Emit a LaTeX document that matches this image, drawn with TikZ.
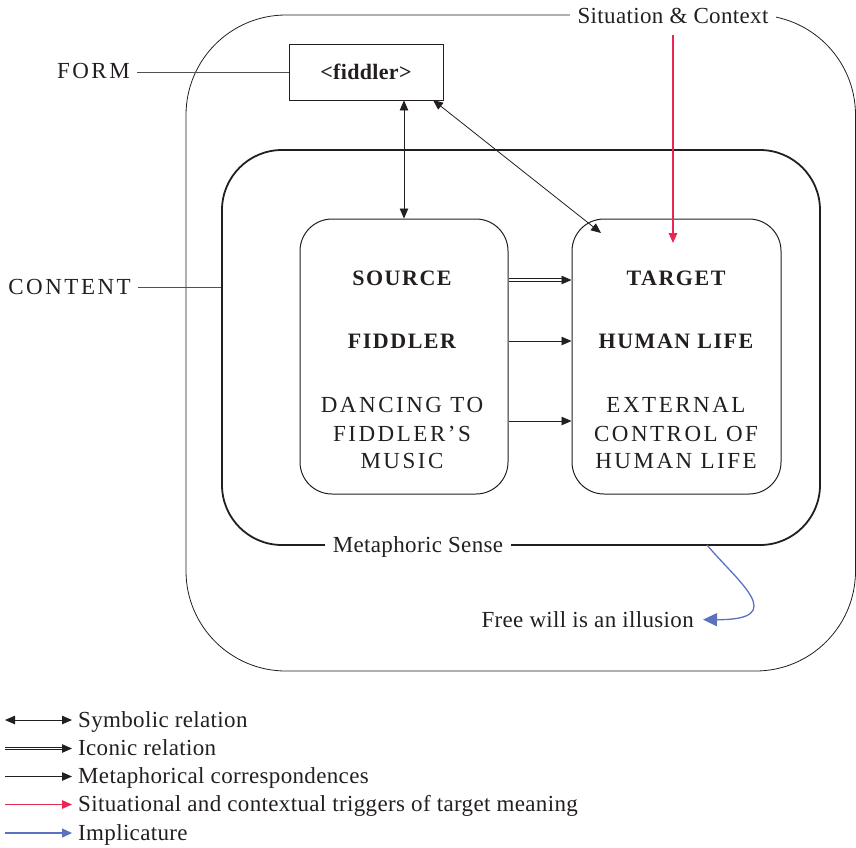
\documentclass[tikz,border=0pt]{standalone}
\usepackage{fontspec}
\setmainfont[LetterSpace=1.5]{Liberation Serif}
\newfontfamily\capsfont[LetterSpace=11]{Liberation Serif}
\newfontfamily\boldcaps[LetterSpace=7]{Liberation Serif}
\usetikzlibrary{arrows.meta}
\definecolor{ink}{RGB}{35,31,32}
\definecolor{trigred}{RGB}{232,40,82}
\definecolor{implblue}{RGB}{92,114,190}
\definecolor{leadgray}{RGB}{80,80,80}

\begin{document}
\begin{tikzpicture}[x=1pt,y=-1pt,
  >={Triangle[length=10pt,width=8.5pt]},
  every node/.style={font=\fontsize{23}{28}\selectfont, inner sep=0pt, text=ink},
  frame/.style={draw=ink, line width=0.8pt},
  roundbox/.style={draw=ink, line width=1pt, rounded corners=32pt, minimum width=208pt, minimum height=275pt},
  caption/.style={fill=white, inner xsep=8pt, inner ysep=3pt, anchor=base},
  capline/.style={font=\fontsize{23}{28}\selectfont\capsfont, anchor=base},
  boldline/.style={font=\fontsize{22}{28}\selectfont\boldcaps\bfseries, anchor=base},
  leader/.style={draw=leadgray, line width=0.8pt},
  symb/.style={draw=ink, line width=0.8pt, <->},
  icostroke/.style={draw=ink, line width=0.8pt, shorten >=8pt},
  corr/.style={draw=ink, line width=0.8pt, ->},
  trig/.style={draw=trigred, line width=1.4pt, -{Triangle[length=10pt,width=8.5pt]}},
  impl/.style={draw=implblue, line width=1.3pt, -{Triangle[length=14pt,width=13pt]}},
  legtext/.style={anchor=base west}
]
\useasboundingbox (0,0) rectangle (856,847);

% situation frame and the content frame
\node[frame, rounded corners=100pt, minimum width=669.5pt, minimum height=656pt] (sit) at (520.75,343) {};
\node[draw=ink, line width=1.8pt, rounded corners=60pt, minimum width=598pt, minimum height=395pt] (cont) at (521,347.5) {};

% frame captions
\node[caption] (sitlbl) at (673,23.5) {Situation \& Context};
\node[caption] (metlbl) at (418,552.5) {Metaphoric Sense};

% form box
\node[frame, minimum width=154pt, minimum height=56pt, font=\fontsize{22}{28}\selectfont\bfseries] (form) at (366,72) {<fiddler>};

% side labels
\node[capline, anchor=base east] (formlbl) at (130,78.5) {FORM};
\node[capline, anchor=base east] (contlbl) at (131,294.5) {CONTENT};
\draw[leader] (formlbl.east |- form.west) ++(7,0) -- (form.west);
\draw[leader] (contlbl.east |- 0,287) ++(7,0) -- (cont.west |- 0,287);

% source and target domains
\node[roundbox] (src) at (404,356.5) {};
\node[roundbox, minimum width=209pt] (tgt) at (676.5,356.5) {};

\node[boldline] (s1) at (402,285.5) {SOURCE};
\node[boldline] (s2) at (402,348.5) {FIDDLER};
\node[capline] (s3) at (402,412.5) {DANCING TO};
\node[capline] (s4) at (402,441.5) {FIDDLER’S};
\node[capline] (s5) at (402,468.5) {MUSIC};

\node[boldline] (t1) at (676,285.5) {TARGET};
\node[boldline] (t2) at (676,348.5) {HUMAN LIFE};
\node[capline] (t3) at (676,412.5) {EXTERNAL};
\node[capline] (t4) at (676,441.5) {CONTROL OF};
\node[capline] (t5) at (676,468.5) {HUMAN LIFE};

% relations between form and content
\draw[symb] (src.north |- form.south) -- (src.north);
\coordinate (diagstart) at (433,100);
\coordinate (diagend) at (601,233);
\draw[symb] (diagstart) -- (diagend);

% iconic relation: two parallel strokes and one head
\coordinate (ia) at (src.east |- 0,280);
\coordinate (ib) at (tgt.west |- 0,280);
\draw[icostroke] ([yshift=1.3pt]ia) -- ([yshift=1.3pt]ib);
\draw[icostroke] ([yshift=-1.3pt]ia) -- ([yshift=-1.3pt]ib);
\draw[corr] ([xshift=-4pt]ib) -- (ib);

\draw[corr] (src.east |- 0,341) -- (tgt.west |- 0,341);
\draw[corr] (src.east |- 0,421) -- (tgt.west |- 0,421);

% contextual trigger
\coordinate (trigend) at (673,243);
\draw[trig] (sitlbl.south -| trigend) ++(0,8) -- (trigend);

% implicature
\node[anchor=base east] (free) at (694,627.5) {Free will is an illusion};
\coordinate (implstart) at (707,545);
\draw[impl] (implstart) .. controls (738,582) and (790,620) .. ([xshift=9pt]free.east);

% legend
\foreach \i/\yy in {1/720,2/748.5,3/776.5,4/804.5,5/833}{
  \coordinate (la\i) at (5,\yy);
  \coordinate (lb\i) at (72,\yy);
}
\draw[symb] (la1) -- (lb1);
\draw[icostroke] ([yshift=1.3pt]la2) -- ([yshift=1.3pt]lb2);
\draw[icostroke] ([yshift=-1.3pt]la2) -- ([yshift=-1.3pt]lb2);
\draw[corr] ([xshift=-4pt]lb2) -- (lb2);
\draw[corr] (la3) -- (lb3);
\draw[trig] (la4) -- (lb4);
\draw[impl, -{Triangle[length=10pt,width=9pt]}] (la5) -- (lb5);
\node[legtext] (leg1) at (78,727) {Symbolic relation};
\node[legtext] (leg2) at (78,755.5) {Iconic relation};
\node[legtext] (leg3) at (78,783.5) {Metaphorical correspondences};
\node[legtext] (leg4) at (78,811.5) {Situational and contextual triggers of target meaning};
\node[legtext] (leg5) at (78,840) {Implicature};
\end{tikzpicture}
\end{document}
